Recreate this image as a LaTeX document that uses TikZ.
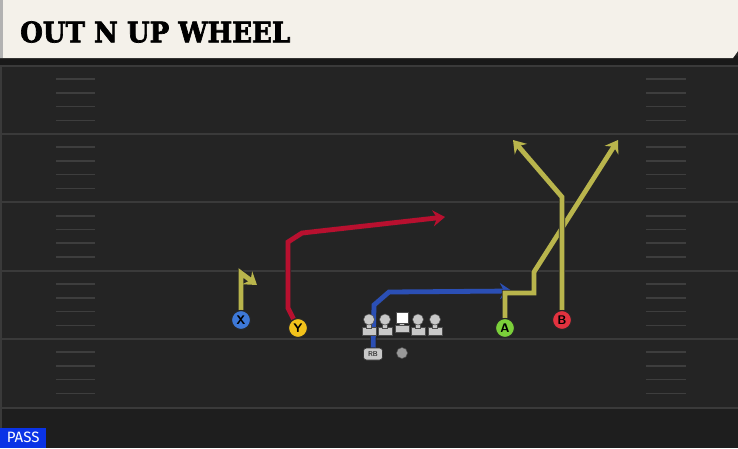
\documentclass[tikz,border=0pt]{standalone}
\usepackage{fontspec}
\setmainfont{DejaVu Sans}
\newfontfamily\titlefont{DejaVu Serif}[BoldFeatures={FakeBold=2.5}]
\newfontfamily\passfont{Fira Sans}
\usetikzlibrary{arrows.meta}
\definecolor{field}{HTML}{242424}
\definecolor{fieldlow}{HTML}{1E1E1E}
\definecolor{yardline}{HTML}{3A3A3A}
\definecolor{hashc}{HTML}{3E3E3E}
\definecolor{titlebg}{HTML}{F4F1EA}
\definecolor{routeyel}{HTML}{B9B54C}
\definecolor{routered}{HTML}{B8102F}
\definecolor{routeblue}{HTML}{2B4FB5}
\definecolor{xblue}{HTML}{3D78D8}
\definecolor{yyel}{HTML}{F2C21B}
\definecolor{agreen}{HTML}{7BD03A}
\definecolor{bred}{HTML}{E2323F}
\definecolor{passblue}{HTML}{0A33E6}
\definecolor{olgray}{HTML}{C8C8C8}
\pgfdeclarelayer{bg}
\pgfdeclarelayer{routes}
\pgfsetlayers{bg,routes,main}
\tikzset{
  route/.style={line width=4.8pt, line join=miter,
    preaction={draw=black!85, line width=6.4pt},
    -{Stealth[length=12pt,width=16pt,inset=4pt]}},
  player/.style={circle, draw=black!85, line width=1.1pt, minimum size=19pt,
    inner sep=0pt, font=\sffamily\bfseries\fontsize{12.5}{12.5}\selectfont},
  yard/.style={draw=yardline, line width=2pt},
  hashm/.style={draw=hashc, line width=1.6pt},
  lineman/.style={fill=olgray, draw=black!70, line width=0.5pt}
}
\begin{document}
\begin{tikzpicture}[x=1pt,y=-1pt]
\useasboundingbox (0,0) rectangle (738,448);
\begin{pgfonlayer}{bg}
  \fill[field] (0,0) rectangle (738,448);
  \fill[fieldlow] (0,408) rectangle (738,448);
  \fill[black!90] (0,56) rectangle (738,66);
  % yard lines
  \foreach \y in {65.5,133.5,202,270.5,338.5,407.5} {
    \draw[yard] (0,\y) -- (738,\y);
  }
  % hash marks
  \foreach \y in {65.5,133.5,202,270.5,338.5} {
    \foreach \j in {1,2,3,4} {
      \draw[hashm] (56,{\y+13.7*\j}) -- (95,{\y+13.7*\j});
      \draw[hashm] (646,{\y+13.7*\j}) -- (686,{\y+13.7*\j});
    }
  }
  \draw[draw=yardline, line width=2pt] (1,66) -- (1,448);
  % title bar
  \fill[titlebg] (0,0) -- (738,0) -- (738,51) -- (733,58) -- (0,58) -- cycle;
  \fill[black!30] (0,0) rectangle (3,58);
\end{pgfonlayer}
\node[anchor=west, inner sep=0pt] (title) at (20,32)
  {\resizebox{270pt}{21pt}{\titlefont\bfseries OUT N UP WHEEL}};
% PASS badge
\node[anchor=south west, fill=passblue, text=white, inner sep=0pt,
  minimum width=46pt, minimum height=20pt,
  font=\passfont\fontsize{15}{15}\selectfont] (pass) at (0,448) {PASS};
% players
\node[player, fill=xblue] (X) at (241,320) {X};
\node[player, fill=yyel] (Y) at (298,328) {Y};
\node[player, fill=agreen] (A) at (505,328) {A};
\node[player, fill=bred] (B) at (562,320) {B};
\node[fill=olgray, draw=black!80, line width=0.6pt, rounded corners=3pt,
  minimum width=19pt, minimum height=12pt, inner sep=0pt,
  font=\sffamily\fontsize{7}{7}\selectfont] (RB) at (373,354) {RB};
\node[circle, fill=gray!80, draw=black!70, line width=0.5pt, minimum size=11pt,
  inner sep=0pt] (QB) at (402,353) {};
% linemen
\foreach \x in {369,385,418,435} {
  \filldraw[lineman] (\x-7,327.5) rectangle (\x+7,335);
  \filldraw[lineman] (\x-2.5,321) rectangle (\x+2.5,328);
  \filldraw[lineman] (\x,319.5) circle (5.5);
}
\filldraw[lineman] (395,325) rectangle (409,332);
\filldraw[lineman] (399.5,321) rectangle (404.5,325);
\filldraw[fill=white, draw=black!70, line width=0.5pt] (396,312.5) rectangle (408,323);
% routes
\begin{pgfonlayer}{routes}
  \coordinate (xe) at (257,285);
  \coordinate (ye) at (445,217);
  \coordinate (rbe) at (512,291);
  \coordinate (ae) at (618,140);
  \coordinate (be) at (513,140);
  \draw[route, routeyel] (X) -- (241,273) -- (xe);
  \draw[route, routered] (Y) -- (288,308) -- (288,242) -- (302,233) -- (ye);
  \draw[route, routeblue] (RB) -- (374,305) -- (389,292) -- (rbe);
  \draw[route, routeyel] (A) -- (505,293) -- (534,293) -- (534,272) -- (ae);
  \draw[route, routeyel] (B) -- (562,197) -- (be);
\end{pgfonlayer}
\end{tikzpicture}
\end{document}
